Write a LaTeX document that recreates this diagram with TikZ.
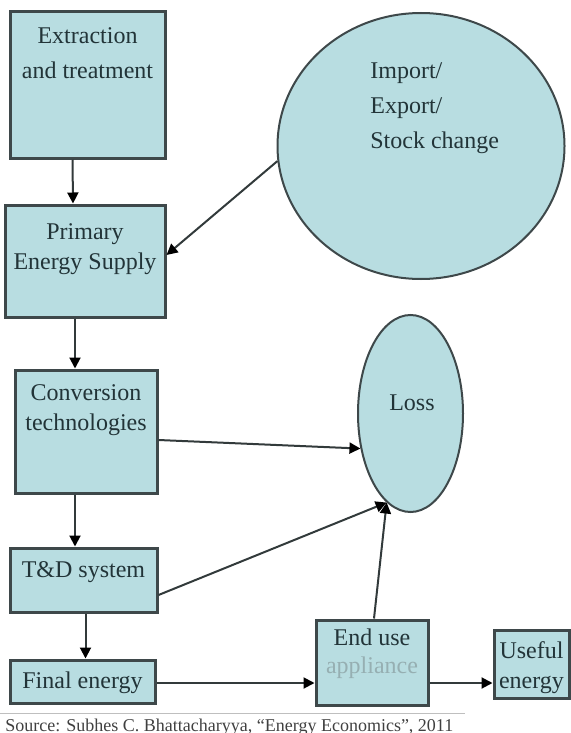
\documentclass[tikz,border=0pt]{standalone}
\usepackage{fontspec}
\setmainfont{Liberation Serif}
\usetikzlibrary{arrows.meta,shapes.geometric}
\definecolor{boxFill}{RGB}{184,221,225}
\definecolor{boxEdge}{RGB}{62,72,74}
\definecolor{inkTeal}{RGB}{34,52,56}
\definecolor{fadedInk}{RGB}{150,175,178}
\newcommand{\boxlines}[4]{\parbox[c][#2][t]{#1}{\centering\rule{0pt}{#3}#4\par}}
\tikzset{
  flow box/.style={draw=boxEdge,fill=boxFill,line width=1.5pt,inner sep=0pt,text=inkTeal,font=\fontsize{12}{15}\selectfont},
  flow oval/.style={ellipse,draw=boxEdge,fill=boxFill,line width=1pt,inner sep=0pt},
  oval text/.style={inner sep=0pt,text=inkTeal,font=\fontsize{12}{17.5}\selectfont},
  flow arrow/.style={-{Triangle[length=5.5pt,width=5.5pt,color=black]},line width=1pt,draw=boxEdge!80!black}
}
\begin{document}
\begin{tikzpicture}[x=0.5pt,y=-0.5pt]
  \useasboundingbox (0,0) rectangle (571,733);
  \node[flow box] (extract) at (87.5,85) {\boxlines{77.5pt}{73pt}{15.5pt}{Extraction\\[3pt]and treatment}};
  \node[flow box] (primary) at (85,261) {\boxlines{80pt}{56pt}{17pt}{Primary\\Energy Supply}};
  \node[flow box] (conv) at (86,431.5) {\boxlines{71pt}{61.5pt}{15pt}{Conversion\\technologies}};
  \node[flow box] (td) at (83.5,580) {\boxlines{73.5pt}{32pt}{14.5pt}{T\&D system}};
  \node[flow box] (final) at (82.5,681.5) {\boxlines{72.5pt}{21.5pt}{14pt}{Final energy}};
  \node[flow box] (enduse) at (372,662.5) {\boxlines{56pt}{42.5pt}{12.5pt}{End use\\[-1pt]\textcolor{fadedInk}{appliance}}};
  \node[flow box] (useful) at (531.5,664) {\boxlines{37.5pt}{34pt}{14pt}{Useful\\energy}};
  \node[flow oval,minimum width=143.5pt,minimum height=133pt] (trade) at (421,146) {};
  \node[oval text,align=left,anchor=north west] (tradetext) at (370,62) {Import/\\Export/\\Stock change};
  \node[flow oval,minimum width=52.5pt,minimum height=98.5pt] (loss) at (410.5,413.5) {};
  \node[oval text,anchor=base] (losstext) at (412,410) {Loss};
  \draw[flow arrow] ([xshift=-7.5pt]extract.south) -- ([xshift=-6pt]primary.north);
  \draw[flow arrow] (trade.186) -- ([yshift=3pt]primary.east);
  \draw[flow arrow] ([xshift=-5pt]primary.south) -- ([xshift=-5.5pt]conv.north);
  \draw[flow arrow] ([xshift=-5.5pt]conv.south) -- ([xshift=-4.25pt]td.north);
  \draw[flow arrow] ([xshift=1pt]td.south) -- ([xshift=1.5pt]final.north);
  \draw[flow arrow] ([yshift=-4.25pt]conv.east) -- (loss.215);
  \draw[flow arrow] ([yshift=-7.5pt]td.east) -- (loss.255);
  \draw[flow arrow] ([xshift=1pt]enduse.north) -- (loss.255);
  \draw[flow arrow] ([yshift=-0.75pt]final.east) -- ([yshift=-10.25pt]enduse.west);
  \draw[flow arrow] ([yshift=-10.25pt]enduse.east) -- ([yshift=-9.5pt]useful.west);
  \draw[black!25,line width=0.5pt] (0,713) -- (465,713);
  \node[anchor=base west,inner sep=0pt,font=\fontsize{9}{11}\selectfont,text=black!75] (source) at (5,731) {Source: Subhes C. Bhattacharyya, ``Energy Economics'', 2011};
\end{tikzpicture}
\end{document}
